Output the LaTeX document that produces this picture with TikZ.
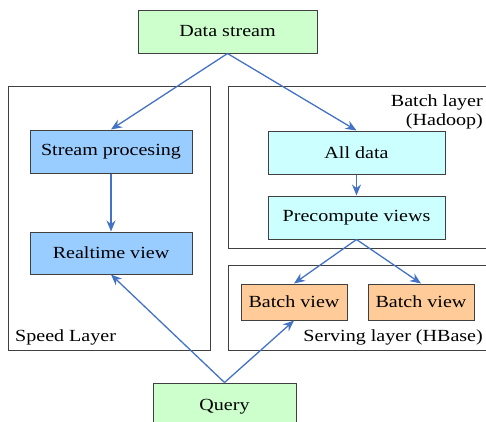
\documentclass[tikz,border=0pt]{standalone}
\usepackage{fontspec}
\setmainfont{Liberation Serif}
\usetikzlibrary{arrows.meta}
\definecolor{cgreen}{HTML}{CCFFCC}
\definecolor{cblue}{HTML}{99CCFF}
\definecolor{ccyan}{HTML}{CCFFFF}
\definecolor{corange}{HTML}{FFCC99}
\definecolor{carrow}{HTML}{4472C4}
\definecolor{cborder}{HTML}{404040}
\newcommand{\wtxt}[1]{\scalebox{1.18}[1]{#1}}
\tikzset{
  box/.style={draw=cborder, line width=1pt, inner sep=0pt, font=\fontsize{17}{20}\selectfont},
  layer/.style={draw=cborder, line width=1pt, inner sep=0pt},
  lbl/.style={inner sep=0pt, font=\fontsize{17}{20}\selectfont},
  conn/.style={draw=carrow, line width=1.3pt, -{Stealth[length=11pt,width=9pt]}},
}
\begin{document}
\begin{tikzpicture}[x=1pt,y=-1pt]
\useasboundingbox (0,0) rectangle (486,421);
% layers
\node[layer, minimum width=202pt, minimum height=264pt] (speed) at (109,218) {};
\node[layer, minimum width=260pt, minimum height=162pt] (batchl) at (358,167) {};
\node[layer, minimum width=260pt, minimum height=85pt] (serving) at (358,307.5) {};
\node[lbl, anchor=base east] (lb1) at (483,106) {\wtxt{Batch layer}};
\node[lbl, anchor=base east] (lb2) at (483,125) {\wtxt{(Hadoop)}};
\node[lbl, anchor=base west] (lsp) at (15,341) {\wtxt{Speed Layer}};
\node[lbl, anchor=base east] (lsv) at (483,341) {\wtxt{Serving layer (HBase)}};
% nodes
\node[box, fill=cgreen, minimum width=179pt, minimum height=43pt] (ds) at (227.5,31.5) {\wtxt{Data stream}};
\node[box, fill=cblue, minimum width=162pt, minimum height=43pt] (sp) at (111,151.5) {\wtxt{Stream procesing}};
\node[box, fill=cblue, minimum width=162pt, minimum height=42pt] (rv) at (111,253) {\wtxt{Realtime view}};
\node[box, fill=ccyan, minimum width=177pt, minimum height=43pt] (ad) at (356.5,152.5) {\wtxt{All data}};
\node[box, fill=ccyan, minimum width=177pt, minimum height=43pt] (pv) at (356.5,217.5) {\wtxt{Precompute views}};
\node[box, fill=corange, minimum width=106pt, minimum height=36pt] (bv1) at (294,302) {\wtxt{Batch view}};
\node[box, fill=corange, minimum width=106pt, minimum height=36pt] (bv2) at (421,302) {\wtxt{Batch view}};
\node[box, fill=cgreen, minimum width=143pt, minimum height=44pt, text depth=0pt] (q) at (224.5,405) {\wtxt{Query}};
% connectors
\draw[conn] (ds.south) -- (sp.north);
\draw[conn] (ds.south) -- (ad.north);
\draw[conn] (sp.south) -- (rv.north);
\draw[conn] (ad.south) -- (pv.north);
\draw[conn] (pv.south) -- (bv1.north);
\draw[conn] (pv.south) -- (bv2.north);
\draw[conn] (q.north) -- (rv.south);
\draw[conn] (q.north) -- (bv1.south);
\end{tikzpicture}
\end{document}
